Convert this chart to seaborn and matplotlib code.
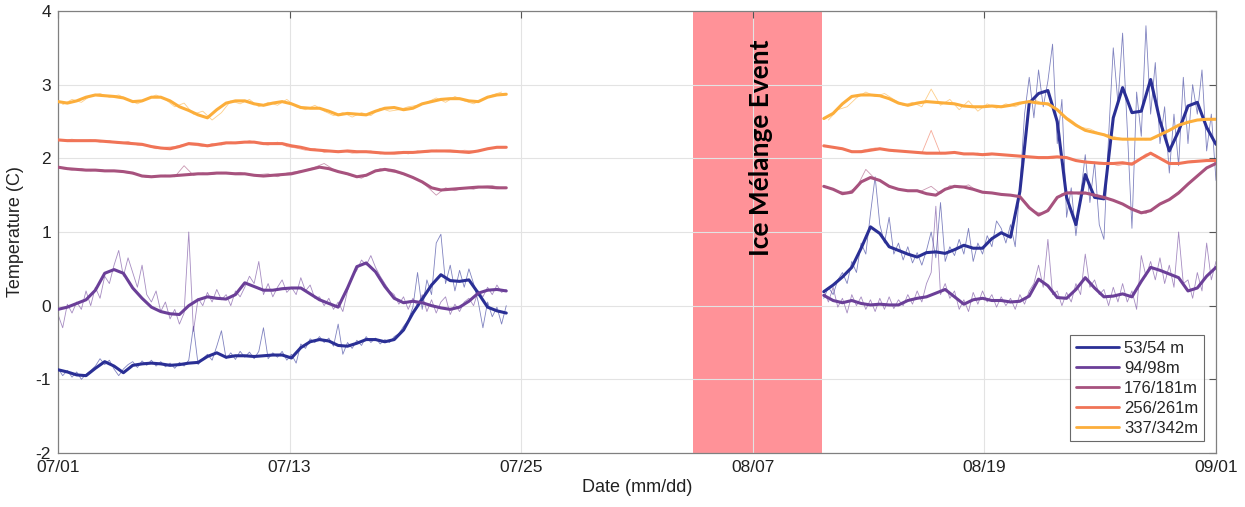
import numpy as np
import pandas as pd
import matplotlib
matplotlib.use("Agg")
import matplotlib.pyplot as plt
from matplotlib.lines import Line2D
import seaborn as sns

# ---------------- data ----------------
SERIES = ["53/54 m", "94/98m", "176/181m", "256/261m", "337/342m"]
COLORS = ["#2a2f95", "#6b3f98", "#a7527e", "#f07457", "#fcae3b"]

XTICK_LABELS = ["07/01", "07/13", "07/25", "08/07", "08/19", "09/01"]
YTICKS = [-2, -1, 0, 1, 2, 3, 4]
YTICK_LABELS = ["-2", "-1", "0", "1", "2", "3", "4"]

SEG1_START = 0.0    # day index since 07/01
SEG2_START = 41.0
EVENT_START = 34.0
EVENT_END = 40.9
EVENT_LABEL = "Ice Mélange Event"

# smoothed series, half-day spacing
smooth1_337 = [2.77, 2.75, 2.78, 2.83, 2.86, 2.85, 2.84, 2.82, 2.77, 2.78,
               2.83, 2.83, 2.78, 2.70, 2.65, 2.59, 2.55, 2.66, 2.75, 2.78,
               2.78, 2.74, 2.72, 2.75, 2.77, 2.74, 2.69, 2.68, 2.68, 2.64,
               2.59, 2.61, 2.60, 2.59, 2.64, 2.68, 2.69, 2.66, 2.68, 2.74,
               2.77, 2.80, 2.81, 2.81, 2.78, 2.77, 2.83, 2.86, 2.87]
smooth1_256 = [2.25, 2.24, 2.24, 2.24, 2.24, 2.23, 2.22, 2.21, 2.20, 2.19,
               2.16, 2.14, 2.13, 2.16, 2.20, 2.19, 2.17, 2.19, 2.21, 2.21,
               2.22, 2.22, 2.20, 2.20, 2.20, 2.17, 2.15, 2.12, 2.11, 2.10,
               2.09, 2.10, 2.09, 2.09, 2.08, 2.07, 2.07, 2.08, 2.08, 2.09,
               2.10, 2.10, 2.10, 2.09, 2.08, 2.10, 2.13, 2.15, 2.15]
smooth1_176 = [1.88, 1.86, 1.85, 1.84, 1.84, 1.83, 1.83, 1.82, 1.80, 1.76,
               1.75, 1.76, 1.76, 1.77, 1.78, 1.79, 1.79, 1.80, 1.80, 1.79,
               1.79, 1.77, 1.76, 1.77, 1.78, 1.79, 1.82, 1.85, 1.88, 1.86,
               1.82, 1.79, 1.75, 1.77, 1.83, 1.85, 1.83, 1.79, 1.74, 1.68,
               1.60, 1.57, 1.58, 1.59, 1.60, 1.61, 1.61, 1.60, 1.60]
smooth1_94 = [-0.05, -0.02, 0.03, 0.08, 0.21, 0.44, 0.49, 0.44, 0.24, 0.10,
              -0.02, -0.08, -0.11, -0.12, 0.00, 0.08, 0.12, 0.10, 0.09, 0.15,
              0.31, 0.26, 0.21, 0.21, 0.23, 0.24, 0.24, 0.16, 0.08, 0.03,
              -0.02, 0.24, 0.53, 0.58, 0.46, 0.26, 0.10, 0.04, 0.06, 0.04,
              0.00, -0.03, -0.05, -0.02, 0.06, 0.17, 0.21, 0.22, 0.20]
smooth1_53 = [-0.87, -0.90, -0.94, -0.95, -0.85, -0.76, -0.82, -0.91, -0.81, -0.79,
              -0.78, -0.79, -0.81, -0.80, -0.78, -0.77, -0.69, -0.64, -0.70, -0.68,
              -0.68, -0.69, -0.68, -0.67, -0.67, -0.71, -0.57, -0.49, -0.46, -0.48,
              -0.54, -0.55, -0.51, -0.46, -0.46, -0.49, -0.46, -0.33, -0.10, 0.09,
              0.28, 0.42, 0.34, 0.33, 0.35, 0.17, -0.02, -0.07, -0.10]

smooth2_337 = [2.54, 2.61, 2.74, 2.84, 2.86, 2.86, 2.85, 2.81, 2.75, 2.72,
               2.75, 2.77, 2.76, 2.75, 2.74, 2.71, 2.70, 2.70, 2.71, 2.70,
               2.72, 2.75, 2.77, 2.75, 2.74, 2.66, 2.54, 2.45, 2.38, 2.35,
               2.32, 2.27, 2.26, 2.26, 2.26, 2.26, 2.32, 2.38, 2.45, 2.49,
               2.52, 2.53, 2.53]
smooth2_256 = [2.17, 2.15, 2.13, 2.09, 2.09, 2.11, 2.13, 2.11, 2.10, 2.09,
               2.08, 2.07, 2.07, 2.07, 2.08, 2.06, 2.06, 2.05, 2.06, 2.05,
               2.04, 2.03, 2.02, 2.01, 2.01, 2.02, 2.01, 1.97, 1.95, 1.94,
               1.93, 1.93, 1.94, 1.92, 2.00, 2.07, 2.00, 1.93, 1.93, 1.95,
               1.96, 1.97, 1.97]
smooth2_176 = [1.62, 1.58, 1.52, 1.54, 1.68, 1.74, 1.70, 1.62, 1.58, 1.56,
               1.56, 1.52, 1.50, 1.58, 1.62, 1.61, 1.58, 1.54, 1.53, 1.51,
               1.50, 1.48, 1.33, 1.23, 1.29, 1.47, 1.53, 1.53, 1.53, 1.50,
               1.47, 1.43, 1.38, 1.31, 1.26, 1.29, 1.38, 1.44, 1.53, 1.65,
               1.76, 1.87, 1.93]
smooth2_94 = [0.14, 0.07, 0.04, 0.07, 0.03, 0.01, 0.02, 0.01, 0.01, 0.07,
              0.10, 0.12, 0.17, 0.22, 0.12, 0.02, 0.08, 0.10, 0.07, 0.07,
              0.05, 0.06, 0.13, 0.36, 0.27, 0.11, 0.10, 0.22, 0.38, 0.24,
              0.12, 0.13, 0.16, 0.12, 0.33, 0.52, 0.48, 0.43, 0.38, 0.20,
              0.24, 0.40, 0.52]
smooth2_53 = [0.19, 0.28, 0.39, 0.52, 0.78, 1.07, 0.98, 0.80, 0.75, 0.70,
              0.66, 0.72, 0.73, 0.71, 0.76, 0.82, 0.78, 0.78, 0.91, 0.99,
              0.93, 1.55, 2.75, 2.88, 2.92, 2.50, 1.47, 1.10, 1.78, 1.47,
              1.45, 2.55, 2.96, 2.62, 2.64, 3.07, 2.51, 2.10, 2.37, 2.71,
              2.76, 2.42, 2.19]

# raw series: 53/54 and 94/98 at quarter-day spacing
raw1_53 = [-0.85, -0.95, -0.88, -0.97,  -0.90, -1.00, -0.93, -0.88,
           -0.82, -0.72, -0.80, -0.74,  -0.86, -0.95, -0.86, -0.80,
           -0.76, -0.84, -0.75, -0.81,  -0.74, -0.82, -0.76, -0.83,
           -0.78, -0.85, -0.77, -0.82,  -0.74, -0.28, -0.80, -0.72,
           -0.66, -0.74, -0.55, -0.34,  -0.72, -0.64, -0.73, -0.62,
           -0.70, -0.63, -0.72, -0.62,  -0.30, -0.72, -0.64, -0.70,
           -0.62, -0.74, -0.66, -0.78,  -0.52, -0.58, -0.45, -0.50,
           -0.42, -0.50, -0.44, -0.55,  -0.25, -0.66, -0.50, -0.58,
           -0.47, -0.54, -0.42, -0.50,  -0.44, -0.52, -0.46, -0.50,
           -0.42, -0.38, -0.28, -0.20,  -0.02, 0.45, -0.05, 0.35,
           0.15, 0.85, 0.97, 0.30,  0.55, 0.20, 0.48, 0.25,
           0.50, 0.30, 0.05, -0.30,  0.05, -0.15, -0.02, -0.25,
           0.00]
raw1_94 = [-0.12, -0.30, 0.02, -0.10,  0.05, -0.05, 0.20, 0.00,
           0.25, 0.10, 0.40, 0.30,  0.55, 0.75, 0.40, 0.65,
           0.45, 0.25, 0.55, 0.15,  0.05, 0.20, -0.08, 0.05,
           -0.18, -0.05, -0.25, -0.10,  1.00, -0.35, 0.10, 0.00,
           0.18, 0.05, 0.22, 0.08,  0.15, 0.00, 0.20, 0.12,
           0.25, 0.40, 0.30, 0.60,  0.15, 0.30, 0.12, 0.25,
           0.35, 0.18, 0.25, 0.15,  0.38, 0.20, 0.28, 0.10,
           0.12, 0.00, 0.10, -0.05,  0.05, -0.08, 0.20, 0.40,
           0.48, 0.62, 0.55, 0.68,  0.52, 0.40, 0.30, 0.20,
           0.15, 0.02, 0.12, -0.05,  0.10, 0.00, 0.15, -0.08,
           0.08, -0.10, 0.05, 0.12,  -0.12, 0.02, -0.08, 0.05,
           0.10, 0.00, 0.20, 0.12,  0.25, 0.15, 0.28, 0.18,
           0.22]
raw2_53 = [0.10, 0.25, 0.15, 0.35,  0.45, 0.30, 0.60, 0.45,
           0.85, 0.70, 1.25, 1.75,  1.10, 0.85, 1.20, 0.70,
           0.85, 0.62, 0.80, 0.58,  0.72, 0.55, 0.75, 1.00,
           0.65, 1.40, 0.60, 0.80,  0.68, 0.90, 0.70, 1.05,
           0.60, 0.85, 0.70, 0.95,  0.80, 1.15, 1.05, 0.85,
           1.10, 0.80, 1.60, 2.60,  3.10, 2.55, 3.20, 2.70,
           3.05, 3.55, 2.20, 2.80,  1.20, 1.60, 0.95, 1.50,
           2.05, 1.40, 1.95, 1.10,  0.90, 2.30, 3.50, 2.75,
           3.70, 2.40, 1.05, 2.90,  2.30, 3.80, 2.60, 3.30,
           2.20, 2.70, 1.80, 2.60,  1.90, 3.10, 2.20, 3.00,
           2.60, 3.20, 2.10, 2.60,  1.70]
raw2_94 = [0.20, 0.05, 0.25, -0.02,  0.10, -0.10, 0.15, 0.00,
           0.12, -0.05, 0.08, -0.08,  0.10, -0.05, 0.12, -0.04,
           0.08, 0.00, 0.15, 0.02,  0.20, 0.05, 0.30, 0.45,
           1.35, 0.15, 0.30, 0.10,  0.20, -0.05, 0.08, -0.08,
           0.18, 0.02, 0.20, 0.05,  0.15, -0.02, 0.12, 0.00,
           0.10, -0.05, 0.15, 0.02,  0.20, 0.30, 0.55, 0.25,
           0.90, 0.15, 0.20, 0.00,  0.18, 0.05, 0.30, 0.15,
           0.70, 0.25, 0.35, 0.15,  0.22, 0.00, 0.25, 0.05,
           0.30, 0.05, 0.20, -0.05,  0.68, 0.40, 0.60, 0.35,
           0.65, 0.30, 0.55, 0.25,  1.00, 0.30, 0.35, 0.10,
           0.45, 0.20, 0.85, 0.35,  0.60]

# raw series: deeper sensors at half-day spacing, offset by a quarter day
raw1_337 = [2.73, 2.80, 2.76, 2.85, 2.88, 2.83, 2.86, 2.80, 2.74, 2.80,
            2.86, 2.80, 2.70, 2.75, 2.60, 2.64, 2.52, 2.62, 2.78, 2.74,
            2.80, 2.70, 2.76, 2.72, 2.80, 2.70, 2.66, 2.72, 2.64, 2.58,
            2.62, 2.56, 2.62, 2.58, 2.68, 2.64, 2.66, 2.70, 2.72, 2.76,
            2.82, 2.76, 2.84, 2.78, 2.74, 2.80, 2.86, 2.90]
raw1_256 = [2.24, 2.26, 2.23, 2.25, 2.22, 2.24, 2.20, 2.23, 2.18, 2.17,
            2.13, 2.15, 2.16, 2.19, 2.18, 2.16, 2.20, 2.18, 2.22, 2.20,
            2.24, 2.20, 2.18, 2.22, 2.16, 2.14, 2.11, 2.13, 2.08, 2.10,
            2.10, 2.07, 2.08, 2.10, 2.06, 2.08, 2.09, 2.06, 2.10, 2.08,
            2.11, 2.09, 2.08, 2.11, 2.10, 2.12, 2.14, 2.16]
raw1_176 = [1.86, 1.84, 1.86, 1.83, 1.85, 1.82, 1.82, 1.80, 1.78, 1.74,
            1.76, 1.77, 1.75, 1.90, 1.77, 1.80, 1.78, 1.81, 1.79, 1.81,
            1.77, 1.78, 1.79, 1.75, 1.80, 1.82, 1.84, 1.88, 1.93, 1.85,
            1.80, 1.76, 1.73, 1.80, 1.86, 1.82, 1.80, 1.76, 1.72, 1.62,
            1.50, 1.60, 1.56, 1.60, 1.58, 1.62, 1.63, 1.60]
raw2_337 = [2.52, 2.66, 2.70, 2.82, 2.90, 2.84, 2.88, 2.80, 2.72, 2.76,
            2.70, 2.94, 2.72, 2.80, 2.66, 2.78, 2.64, 2.74, 2.68, 2.74,
            2.70, 2.76, 2.80, 2.74, 2.70, 2.60, 2.52, 2.42, 2.40, 2.34,
            2.32, 2.28, 2.25, 2.27, 2.25, 2.28, 2.34, 2.42, 2.46, 2.50,
            2.54, 2.52]
raw2_256 = [2.16, 2.13, 2.11, 2.09, 2.12, 2.14, 2.12, 2.09, 2.10, 2.08,
            2.07, 2.38, 2.06, 2.08, 2.07, 2.05, 2.07, 2.04, 2.06, 2.04,
            2.03, 2.02, 2.01, 2.02, 2.00, 2.03, 1.99, 1.96, 1.95, 1.92,
            1.94, 1.90, 1.93, 1.96, 2.06, 2.05, 1.96, 1.92, 1.94, 1.97,
            1.96, 1.98]
raw2_176 = [1.60, 1.55, 1.54, 1.60, 1.85, 1.72, 1.66, 1.60, 1.57, 1.55,
            1.56, 1.62, 1.52, 1.63, 1.60, 1.64, 1.55, 1.53, 1.52, 1.50,
            1.49, 1.42, 1.28, 1.25, 1.38, 1.52, 1.55, 1.50, 1.53, 1.46,
            1.45, 1.40, 1.35, 1.30, 1.25, 1.34, 1.40, 1.50, 1.60, 1.70,
            1.82, 1.90]

SMOOTH = {
    "53/54 m": (smooth1_53, smooth2_53),
    "94/98m": (smooth1_94, smooth2_94),
    "176/181m": (smooth1_176, smooth2_176),
    "256/261m": (smooth1_256, smooth2_256),
    "337/342m": (smooth1_337, smooth2_337),
}
RAW = {
    "53/54 m": (raw1_53, raw2_53, 0.25, 0.0),
    "94/98m": (raw1_94, raw2_94, 0.25, 0.0),
    "176/181m": (raw1_176, raw2_176, 0.5, 0.25),
    "256/261m": (raw1_256, raw2_256, 0.5, 0.25),
    "337/342m": (raw1_337, raw2_337, 0.5, 0.25),
}


def seg_frame(values, start, step, offset):
    v = np.asarray(values, dtype=float)
    return pd.DataFrame({"day": start + offset + step * np.arange(len(v)), "temp": v})


# ---------------- plot ----------------
sns.set_style("white")
plt.rcParams["font.family"] = ["Liberation Sans", "DejaVu Sans"]

fig = plt.figure(figsize=(12.45, 5.07), dpi=100)
ax = fig.add_axes([0.0466, 0.1065, 0.9301, 0.8718])

ax.axvspan(EVENT_START, EVENT_END, color=(1.0, 0.15, 0.2), alpha=0.5, lw=0, zorder=0.5)

for name, color in zip(SERIES, COLORS):
    r1, r2, step, off = RAW[name]
    for vals, start in ((r1, SEG1_START), (r2, SEG2_START)):
        sns.lineplot(data=seg_frame(vals, start, step, off), x="day", y="temp",
                     ax=ax, color=color, lw=0.6, alpha=0.6, estimator=None,
                     sort=False, legend=False, zorder=2)

for name, color in zip(SERIES, COLORS):
    s1, s2 = SMOOTH[name]
    for vals, start in ((s1, SEG1_START), (s2, SEG2_START)):
        sns.lineplot(data=seg_frame(vals, start, 0.5, 0.0), x="day", y="temp",
                     ax=ax, color=color, lw=2.2, estimator=None,
                     sort=False, legend=False, zorder=3)

ax.text((EVENT_START + EVENT_END) / 2 + 0.2, 2.14, EVENT_LABEL, rotation=90,
        ha="center", va="center", fontsize=19, fontweight="bold",
        family=["Lato", "DejaVu Sans"], color="black", zorder=4)

ax.set_xlim(0, 62)
ax.set_ylim(-2, 4)
ax.set_xticks(np.linspace(0, 62, len(XTICK_LABELS)))
ax.set_xticklabels(XTICK_LABELS)
ax.set_yticks(YTICKS)
ax.set_yticklabels(YTICK_LABELS)
ax.grid(True, color="#e3e3e3", lw=0.8)
ax.set_axisbelow(True)
ax.tick_params(direction="in", length=5, width=0.8, labelsize=12.5,
               top=True, right=True, colors="#555555", labelcolor="#222222",
               pad=5)
for sp in ax.spines.values():
    sp.set_color("#808080")
    sp.set_linewidth(0.9)
ax.set_xlabel("Date (mm/dd)", fontsize=13, color="#222222", labelpad=3)
ax.set_ylabel("Temperature (C)", fontsize=13, color="#222222", labelpad=8)

handles = [Line2D([0], [0], color=c, lw=2) for c in COLORS]
leg = ax.legend(handles, SERIES, loc="lower right", fontsize=12,
                handlelength=2.6, handletextpad=0.3, labelspacing=0.3,
                borderpad=0.35, borderaxespad=0.7, frameon=True, fancybox=False)
leg.get_frame().set_edgecolor("#444444")
leg.get_frame().set_linewidth(0.8)

fig.savefig("out.png", dpi=100)
